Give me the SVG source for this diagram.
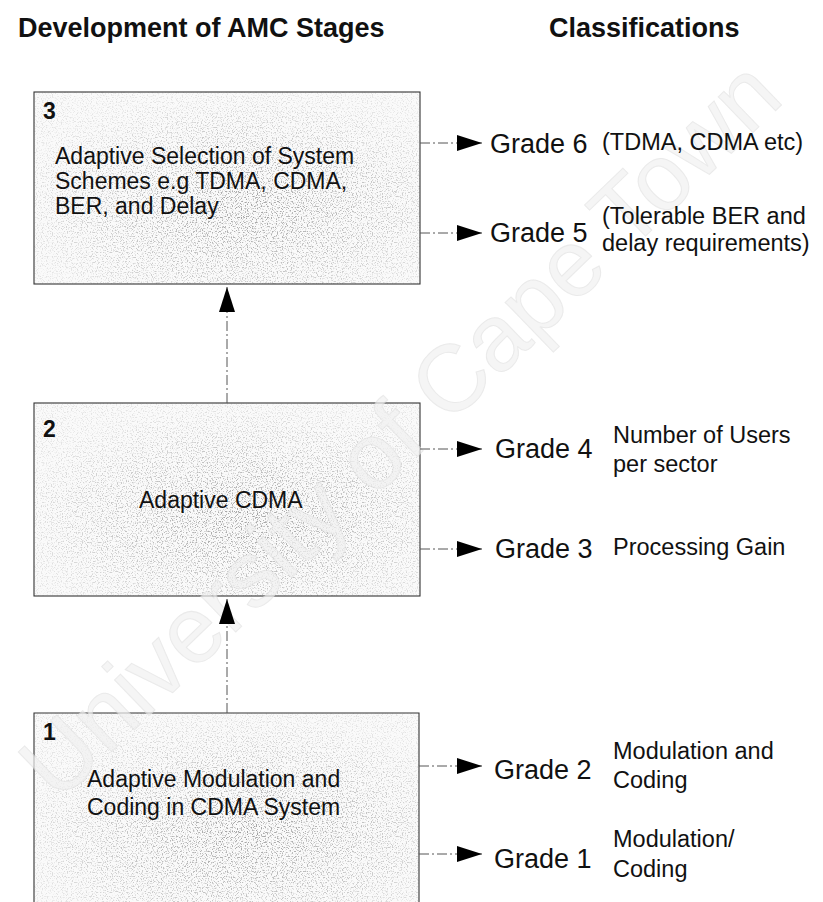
<svg xmlns="http://www.w3.org/2000/svg" width="823" height="902" viewBox="0 0 823 902">
  <style>
    .title { font-family: "Liberation Sans", Arial, sans-serif; font-weight: bold; font-size: 27px; fill: #111; }
    .num { font-family: "Liberation Sans", Arial, sans-serif; font-weight: bold; font-size: 23px; fill: #111; }
    .body { font-family: "Liberation Sans", Arial, sans-serif; font-size: 23px; fill: #111; }
    .grade { font-family: "Liberation Sans", Arial, sans-serif; font-size: 27px; fill: #111; }
    .desc { font-family: "Liberation Sans", Arial, sans-serif; font-size: 23.5px; fill: #111; }
    .box-base { fill: #fafafa; stroke: none; }
    .box-grain { fill: url(#shade); filter: url(#grain); stroke: none; }
    .box-edge { fill: none; stroke: #333; stroke-width: 1.1; }
    .link { fill: none; stroke: #555; stroke-width: 1; stroke-dasharray: 10 3 2 3; marker-end: url(#tri); }
    .wm { font-family: "Liberation Sans", Arial, sans-serif; font-size: 94px; fill: #f1f1f1; stroke: #e2e2e2; stroke-width: 1; }
  </style>
  <defs>
    <radialGradient id="shade" cx="0.55" cy="0.6" r="0.6">
      <stop offset="0" stop-color="#a0a0a0"/>
      <stop offset="0.55" stop-color="#c4c4c4"/>
      <stop offset="1" stop-color="#e4e4e4"/>
    </radialGradient>
    <filter id="grain" x="0" y="0" width="100%" height="100%">
      <feTurbulence type="fractalNoise" baseFrequency="0.8" numOctaves="1" seed="7" result="noise"/>
      <feColorMatrix in="noise" type="matrix"
        values="0 0 0 0 0  0 0 0 0 0  0 0 0 0 0  6 0 0 0 -3.1" result="dots"/>
      <feComposite in="SourceGraphic" in2="dots" operator="in"/>
    </filter>
    <marker id="tri" viewBox="0 0 25 16" markerWidth="25" markerHeight="16" refX="25" refY="8" orient="auto" markerUnits="userSpaceOnUse">
      <path d="M0,0 L25,8 L0,16 Z" fill="#000"/>
    </marker>
  </defs>

  <!-- white page -->
  <rect x="0" y="0" width="823" height="902" fill="#fff"/>

  <!-- column headings -->
  <text class="title" x="18" y="37">Development of AMC Stages</text>
  <text class="title" x="549" y="37">Classifications</text>

  <!-- stage 3 -->
  <g id="stage3">
    <rect class="box-base" x="34" y="92" width="386" height="192"/>
    <rect class="box-grain" x="34" y="92" width="386" height="192"/>
    <rect class="box-edge" x="34" y="92" width="386" height="192"/>
  </g>

  <!-- stage 2 -->
  <g id="stage2">
    <rect class="box-base" x="34" y="403" width="386" height="193"/>
    <rect class="box-grain" x="34" y="403" width="386" height="193"/>
    <rect class="box-edge" x="34" y="403" width="386" height="193"/>
  </g>

  <!-- stage 1 (runs off the bottom edge) -->
  <g id="stage1">
    <rect class="box-base" x="34" y="713" width="385" height="200"/>
    <rect class="box-grain" x="34" y="713" width="385" height="200"/>
    <path class="box-edge" d="M34,902 L34,713 L419,713 L419,902"/>
  </g>

  <!-- watermark -->
  <text class="wm" x="0" y="0" text-anchor="middle" transform="translate(422,452) rotate(-44)" opacity="0.7">University of Cape Town</text>

  <!-- box captions -->
  <g id="stage3-text">
    <text class="num" x="43" y="119">3</text>
    <text class="body" x="55" y="164">Adaptive Selection of System</text>
    <text class="body" x="55" y="189">Schemes e.g TDMA, CDMA,</text>
    <text class="body" x="55" y="214">BER, and Delay</text>
  </g>
  <g id="stage2-text">
    <text class="num" x="43" y="437">2</text>
    <text class="body" x="139" y="508">Adaptive CDMA</text>
  </g>
  <g id="stage1-text">
    <text class="num" x="43" y="740">1</text>
    <text class="body" x="87" y="787">Adaptive Modulation and</text>
    <text class="body" x="87" y="815">Coding in CDMA System</text>
  </g>

  <!-- connectors -->
  <g id="connectors">
    <line class="link" x1="227" y1="403" x2="227" y2="287"/>
    <line class="link" x1="227" y1="713" x2="227" y2="599"/>
    <line class="link" x1="420" y1="143" x2="482" y2="143"/>
    <line class="link" x1="420" y1="233" x2="482" y2="233"/>
    <line class="link" x1="420" y1="449" x2="482" y2="449"/>
    <line class="link" x1="420" y1="549" x2="482" y2="549"/>
    <line class="link" x1="419" y1="766" x2="482" y2="766"/>
    <line class="link" x1="419" y1="854" x2="482" y2="854"/>
  </g>

  <!-- classifications -->
  <g id="grade6">
    <text class="grade" x="490" y="153">Grade 6</text>
    <text class="desc" x="602" y="150">(TDMA, CDMA etc)</text>
  </g>
  <g id="grade5">
    <text class="grade" x="490" y="242">Grade 5</text>
    <text class="desc" x="602" y="224">(Tolerable BER and</text>
    <text class="desc" x="602" y="251">delay requirements)</text>
  </g>
  <g id="grade4">
    <text class="grade" x="495" y="458">Grade 4</text>
    <text class="desc" x="613" y="443">Number of Users</text>
    <text class="desc" x="613" y="472">per sector</text>
  </g>
  <g id="grade3">
    <text class="grade" x="495" y="558">Grade 3</text>
    <text class="desc" x="613" y="555">Processing Gain</text>
  </g>
  <g id="grade2">
    <text class="grade" x="494" y="779">Grade 2</text>
    <text class="desc" x="613" y="759">Modulation and</text>
    <text class="desc" x="613" y="788">Coding</text>
  </g>
  <g id="grade1">
    <text class="grade" x="494" y="868">Grade 1</text>
    <text class="desc" x="613" y="847">Modulation/</text>
    <text class="desc" x="613" y="877">Coding</text>
  </g>
</svg>
